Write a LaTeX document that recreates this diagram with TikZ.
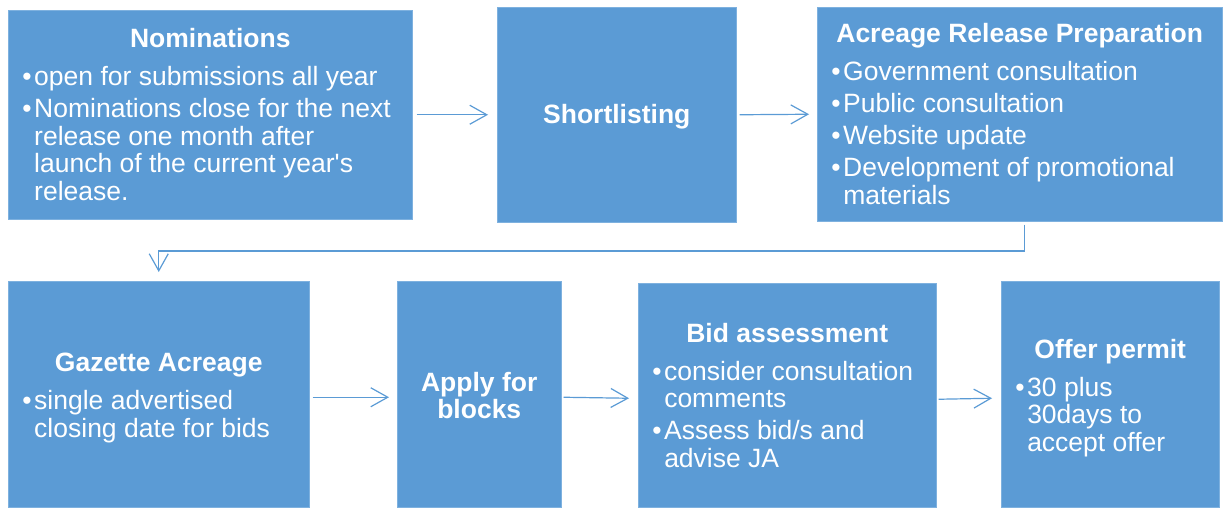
\documentclass[tikz,border=0pt]{standalone}
\usepackage{fontspec}
\setmainfont{Liberation Sans}
\usetikzlibrary{arrows.meta}
\definecolor{boxblue}{HTML}{5B9BD5}
\definecolor{edgeblue}{HTML}{7EB1DF}
\definecolor{arrblue}{HTML}{5B9BD5}
\newcommand\ttl[1]{\hbox to \linewidth{\hss\bfseries #1\hss}}
\newcommand\bl[1]{\hbox{\makebox[12pt][l]{•}#1}}
\newcommand\cl[1]{\hbox{\hspace{12pt}#1}}
\newcommand\igap{\vspace{4.5pt}}
\newcommand\tgap{\vspace{10.5pt}}
\newcommand\dn[1]{\vspace*{#1}}
\newcommand\content[2]{\begin{minipage}{#1}\fontsize{26.5}{27.5}\selectfont #2\end{minipage}}
\tikzset{
  stage/.style={fill=boxblue, draw=edgeblue, line width=0.5pt, inner sep=0pt, anchor=north west, text=white},
  flow/.style={draw=arrblue, line width=1.2pt, -{Straight Barb[length=17pt,width=19pt]}}
}
\begin{document}
\begin{tikzpicture}[x=1pt,y=-1pt]
\useasboundingbox (0,0) rectangle (1223,508);
\node[stage, minimum width=404pt, minimum height=209pt] (nom) at (8,10)
  {\content{376pt}{\ttl{Nominations}\tgap\bl{open for submissions all year}\igap\bl{Nominations close for the next}\cl{release one month after}\cl{launch of the current year\textquotesingle s}\cl{release.}}};
\node[stage, minimum width=239pt, minimum height=215pt] (short) at (497,7)
  {\content{211pt}{\dn{3pt}\ttl{Shortlisting}}};
\node[stage, minimum width=405pt, minimum height=214pt] (acr) at (817,7)
  {\content{377pt}{\ttl{Acreage Release Preparation}\tgap\bl{Government consultation}\igap\bl{Public consultation}\igap\bl{Website update}\igap\bl{Development of promotional}\cl{materials}}};
\node[stage, minimum width=301pt, minimum height=226pt] (gaz) at (8,281)
  {\content{273pt}{\dn{7pt}\ttl{Gazette Acreage}\tgap\bl{single advertised}\cl{closing date for bids}}};
\node[stage, minimum width=164pt, minimum height=226pt] (apply) at (397,281)
  {\content{136pt}{\dn{3pt}\ttl{Apply for}\ttl{blocks}}};
\node[stage, minimum width=298pt, minimum height=224pt] (bid) at (638,283)
  {\content{270pt}{\ttl{Bid assessment}\tgap\bl{consider consultation}\cl{comments}\igap\bl{Assess bid/s and}\cl{advise JA}}};
\node[stage, minimum width=218pt, minimum height=226pt] (offer) at (1001,281)
  {\content{190pt}{\dn{7pt}\ttl{Offer permit}\tgap\bl{30 plus}\cl{30days to}\cl{accept offer}}};
\draw[flow] ([xshift=4pt]nom.east) -- ([xshift=-9pt]short.west);
\draw[flow] ([xshift=3pt]short.east) -- ([xshift=-8pt]acr.west);
\draw[flow] ([xshift=4.5pt,yshift=-3pt]acr.south) |- ([yshift=30pt]gaz.north) -- ([yshift=9pt]gaz.north);
\draw[flow] ([xshift=3pt,yshift=-3pt]gaz.east) -- ([xshift=-8pt,yshift=-3pt]apply.west);
\draw[flow] ([xshift=2pt,yshift=-3pt]apply.east) -- ([xshift=-9pt,yshift=-3pt]bid.west);
\draw[flow] ([xshift=2pt,yshift=-4pt]bid.east) -- ([xshift=-9pt,yshift=-4pt]offer.west);
\end{tikzpicture}
\end{document}
